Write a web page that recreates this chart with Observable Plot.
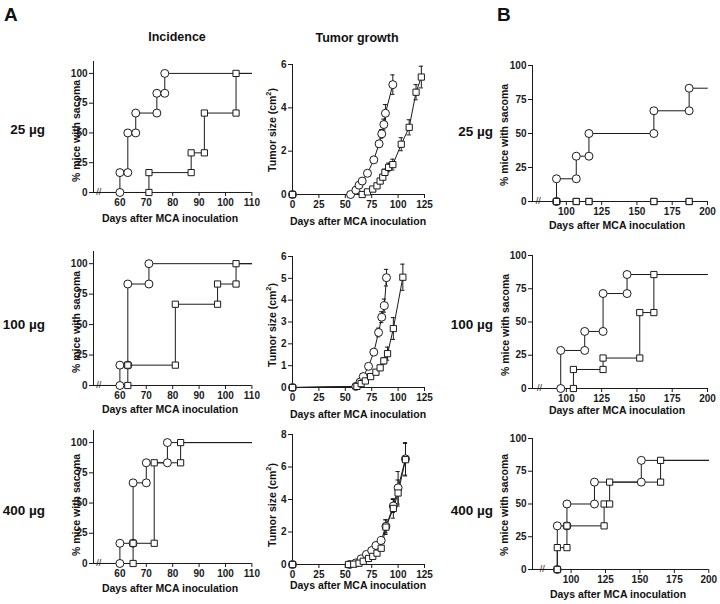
<!DOCTYPE html>
<html><head><meta charset="utf-8">
<script src="https://cdn.jsdelivr.net/npm/d3@7"></script>
<script src="https://cdn.jsdelivr.net/npm/@observablehq/plot@0.6"></script>
<style>
body{margin:0;background:#fff;}
#fig{position:relative;width:720px;height:604px;font-family:"Liberation Sans",Arial,Helvetica,sans-serif;color:#111;overflow:hidden;}
.t{position:absolute;white-space:nowrap;line-height:1;}
.t sup{font-size:70%;line-height:0;}
</style></head><body><div id="fig"></div>
<script>
// ---------- DATA ----------
// Panel A, Incidence (% mice with sarcoma): event days and % after event
const inc25CircDays = [60, 63, 66, 74, 77];
const inc25CircPct  = [16.7, 50, 66.7, 83.3, 100];
const inc25SqDays   = [71, 87, 92, 104];
const inc25SqPct    = [16.7, 33.3, 66.7, 100];

const inc100CircDays = [60, 63, 71];
const inc100CircPct  = [16.7, 83.3, 100];
const inc100SqDays   = [63, 81, 97, 104];
const inc100SqPct    = [16.7, 66.7, 83.3, 100];

const inc400CircDays = [60, 65, 70, 78];
const inc400CircPct  = [16.7, 66.7, 83.3, 100];
const inc400SqDays   = [65, 73, 83];
const inc400SqPct    = [16.7, 83.3, 100];

// Panel A, Tumor growth (cm2): day, mean size, error
const tg25CircDay  = [0, 55, 60, 63, 66, 71, 77, 82, 84.5, 86.5, 88, 95];
const tg25CircSize = [0, 0, 0.2, 0.43, 0.62, 0.98, 1.6, 2.34, 2.8, 3.23, 3.75, 5.07];
const tg25CircErr  = [0, 0, 0.03, 0.05, 0.07, 0.1, 0.12, 0.15, 0.2, 0.25, 0.4, 0.45];
const tg25SqDay    = [0, 66, 71, 76, 80, 83, 85.5, 87.5, 91, 95, 103, 110.5, 117, 122];
const tg25SqSize   = [0, 0, 0.12, 0.25, 0.4, 0.62, 0.8, 1.02, 1.25, 1.38, 2.32, 3.1, 4.72, 5.42];
const tg25SqErr    = [0, 0, 0.03, 0.05, 0.08, 0.1, 0.12, 0.15, 0.2, 0.25, 0.3, 0.35, 0.35, 0.5];

const tg100CircDay  = [0, 60, 64, 67, 72, 77, 81.5, 84.5, 87, 89];
const tg100CircSize = [0, 0.05, 0.25, 0.5, 0.97, 1.62, 2.52, 3.22, 3.75, 5.03];
const tg100CircErr  = [0, 0, 0.04, 0.06, 0.1, 0.12, 0.2, 0.25, 0.3, 0.38];
const tg100SqDay    = [0, 61, 65, 69, 74, 79, 83, 86.5, 90, 95.5, 104.5];
const tg100SqSize   = [0, 0.05, 0.18, 0.3, 0.5, 0.7, 0.9, 1.22, 1.55, 2.7, 5.05];
const tg100SqErr    = [0, 0, 0.03, 0.05, 0.07, 0.1, 0.12, 0.15, 0.3, 0.5, 0.6];

const tg400CircDay  = [0, 54, 60, 65, 70, 75, 79, 84, 88.5, 95.5, 100, 107];
const tg400CircSize = [0, 0, 0.1, 0.35, 0.62, 0.86, 1.17, 1.48, 2.35, 3.6, 4.72, 6.5];
const tg400CircErr  = [0, 0, 0.03, 0.05, 0.08, 0.1, 0.12, 0.15, 0.4, 0.4, 1.0, 1.0];
const tg400SqDay    = [0, 53, 58, 63, 67, 72, 76, 80, 84, 88.5, 95.5, 100, 107];
const tg400SqSize   = [0, 0, 0.02, 0.08, 0.2, 0.37, 0.5, 0.7, 1.0, 2.3, 3.45, 4.4, 6.45];
const tg400SqErr    = [0, 0, 0, 0.03, 0.05, 0.07, 0.08, 0.1, 0.12, 0.45, 0.6, 0.8, 1.0];

// Panel B, Incidence
const b25CircDays = [93, 107, 116, 162, 187];
const b25CircPct  = [16.7, 33.3, 50, 66.7, 83.3];
const b25SqDays   = [93, 107, 116, 162, 187];
const b25SqPct    = [0, 0, 0, 0, 0];

const b100CircDays = [96, 113, 126, 143];
const b100CircPct  = [28.6, 42.9, 71.4, 85.7];
const b100SqDays   = [105, 126, 152, 162];
const b100SqPct    = [14.3, 22.9, 57.1, 85.7];

const b400CircDays = [90, 97, 117, 151];
const b400CircPct  = [33.3, 50, 66.7, 83.3];
const b400SqDays   = [90, 97, 124, 128, 165];
const b400SqPct    = [16.7, 33.3, 50, 66.7, 83.3];

// Tick labels
const incXTicks = [60, 70, 80, 90, 100, 110];
const pctTicks  = [0, 25, 50, 75, 100];
const tgXTicks  = [0, 25, 50, 75, 100, 125];
const tg25YTicks  = [0, 2, 4, 6];
const tg100YTicks = [0, 1, 2, 3, 4, 5, 6];
const tg400YTicks = [0, 2, 4, 6, 8];
const bXTicks   = [100, 125, 150, 175, 200];
const doseLabels = ["25 µg", "100 µg", "400 µg"];

// ---------- DRAWING ----------
const FONT = '"Liberation Sans", Arial, Helvetica, sans-serif';
const INK = "#1a1a1a";
const fig = document.getElementById("fig");

function addText(html, x, y, {size = 10.5, anchor = "center", rotate = false, weight = "bold"} = {}) {
  const d = document.createElement("div");
  d.className = "t";
  d.innerHTML = html;
  d.style.left = x + "px";
  d.style.top = y + "px";
  d.style.fontSize = size + "px";
  d.style.fontWeight = weight;
  const tx = anchor === "center" ? "-50%" : anchor === "end" ? "-100%" : "0";
  d.style.transform = `translate(${tx},-50%)` + (rotate ? " rotate(-90deg)" : "");
  fig.appendChild(d);
}

function panel({x0, x1, xd, yb, yt, yd, xticks, yticks, marks}) {
  const mL = 36, mR = 10, mT = 8, mB = 20;
  const p = Plot.plot({
    width: x1 - x0 + mL + mR,
    height: yb - yt + mT + mB,
    marginLeft: mL, marginRight: mR, marginTop: mT, marginBottom: mB,
    x: {domain: xd},
    y: {domain: yd},
    style: {fontFamily: FONT, fontSize: "10px", fontWeight: "bold", color: INK, background: "transparent", overflow: "visible"},
    marks: [
      Plot.ruleY([yd[0]], {stroke: INK, strokeWidth: 1}),
      Plot.ruleX([xd[0]], {stroke: INK, strokeWidth: 1}),
      Plot.axisX({ticks: xticks, tickSize: 4, tickPadding: 2, label: null, tickFormat: d => String(d)}),
      Plot.axisY({ticks: yticks, tickSize: 4, tickPadding: 2, label: null, tickFormat: d => String(d)}),
      ...marks
    ]
  });
  p.style.position = "absolute";
  p.style.left = (x0 - mL) + "px";
  p.style.top = (yt - mT) + "px";
  fig.appendChild(p);
}

function stepData(days, pct, xmin, xmax) {
  const line = [{x: xmin, y: 0}, ...days.map((d, i) => ({x: d, y: pct[i]})), {x: xmax, y: pct[pct.length - 1]}];
  const pts = [];
  days.forEach((d, i) => {
    pts.push({x: d, y: i ? pct[i - 1] : 0});
    pts.push({x: d, y: pct[i]});
  });
  return {line, pts};
}

function incidenceMarks(cd, cp, sd, sp, xmin, xmax, brk) {
  const c = stepData(cd, cp, xmin, xmax);
  const s = stepData(sd, sp, xmin, xmax);
  return [
    Plot.text([{x: brk, y: 0}], {x: "x", y: "y", text: () => "//", fontSize: 9, fontWeight: "normal", fill: INK, stroke: "white", strokeWidth: 2}),
    Plot.line(c.line, {x: "x", y: "y", curve: "step-after", stroke: INK, strokeWidth: 1}),
    Plot.line(s.line, {x: "x", y: "y", curve: "step-after", stroke: INK, strokeWidth: 1}),
    Plot.dot(c.pts, {x: "x", y: "y", r: 4, fill: "white", stroke: INK, strokeWidth: 1}),
    Plot.dot(s.pts, {x: "x", y: "y", r: 3.5, symbol: "square", fill: "white", stroke: INK, strokeWidth: 1})
  ];
}

function growthMarks(cd, cs, ce, sd, ss, se) {
  const c = cd.map((d, i) => ({x: d, y: cs[i], e: ce[i]}));
  const s = sd.map((d, i) => ({x: d, y: ss[i], e: se[i]}));
  const bars = [...c, ...s].filter(d => d.e > 0.1);
  return [
    Plot.line(c, {x: "x", y: "y", stroke: INK, strokeWidth: 1}),
    Plot.line(s, {x: "x", y: "y", stroke: INK, strokeWidth: 1}),
    Plot.ruleX(bars, {x: "x", y1: d => d.y - d.e, y2: d => d.y + d.e, stroke: INK, strokeWidth: 1}),
    Plot.ruleY(bars, {y: d => d.y + d.e, x1: d => d.x - 2, x2: d => d.x + 2, stroke: INK, strokeWidth: 1}),
    Plot.ruleY(bars, {y: d => d.y - d.e, x1: d => d.x - 2, x2: d => d.x + 2, stroke: INK, strokeWidth: 1}),
    Plot.dot(c, {x: "x", y: "y", r: 4, fill: "white", stroke: INK, strokeWidth: 1}),
    Plot.dot(s, {x: "x", y: "y", r: 3.5, symbol: "square", fill: "white", stroke: INK, strokeWidth: 1})
  ];
}

// Panel A incidence
const incA = [
  {yb: 192, yt: 61, c: [inc25CircDays, inc25CircPct], s: [inc25SqDays, inc25SqPct]},
  {yb: 385, yt: 251, c: [inc100CircDays, inc100CircPct], s: [inc100SqDays, inc100SqPct]},
  {yb: 563, yt: 430, c: [inc400CircDays, inc400CircPct], s: [inc400SqDays, inc400SqPct]}
];
incA.forEach(r => panel({
  x0: 92.6, x1: 251, xd: [50, 110], yb: r.yb, yt: r.yt, yd: [0, 110],
  xticks: incXTicks, yticks: pctTicks,
  marks: incidenceMarks(r.c[0], r.c[1], r.s[0], r.s[1], 50, 110, 52)
}));

// Panel A tumor growth
const tgA = [
  {yb: 194, yt: 64, yd: [0, 6], yt2: tg25YTicks, m: growthMarks(tg25CircDay, tg25CircSize, tg25CircErr, tg25SqDay, tg25SqSize, tg25SqErr)},
  {yb: 387, yt: 256, yd: [0, 6], yt2: tg100YTicks, m: growthMarks(tg100CircDay, tg100CircSize, tg100CircErr, tg100SqDay, tg100SqSize, tg100SqErr)},
  {yb: 564, yt: 434, yd: [0, 8], yt2: tg400YTicks, m: growthMarks(tg400CircDay, tg400CircSize, tg400CircErr, tg400SqDay, tg400SqSize, tg400SqErr)}
];
tgA.forEach(r => panel({
  x0: 292, x1: 424, xd: [0, 125], yb: r.yb, yt: r.yt, yd: r.yd,
  xticks: tgXTicks, yticks: r.yt2, marks: r.m
}));

// Panel B incidence
const incB = [
  {yb: 201, yt: 65, x0: 532, x1: 707, xd: [76, 200], brk: 80, c: [b25CircDays, b25CircPct], s: [b25SqDays, b25SqPct]},
  {yb: 388, yt: 255, x0: 532, x1: 707, xd: [76, 200], brk: 81, c: [b100CircDays, b100CircPct], s: [b100SqDays, b100SqPct]},
  {yb: 569, yt: 438, x0: 531.7, x1: 708, xd: [72, 200], brk: 79, c: [b400CircDays, b400CircPct], s: [b400SqDays, b400SqPct]}
];
incB.forEach(r => panel({
  x0: r.x0, x1: r.x1, xd: r.xd, yb: r.yb, yt: r.yt, yd: [0, 100],
  xticks: bXTicks, yticks: pctTicks,
  marks: incidenceMarks(r.c[0], r.c[1], r.s[0], r.s[1], r.xd[0], 200, r.brk)
}));

// ---------- TEXT ----------
addText("A", 4, 14, {size: 19, anchor: "start"});
addText("B", 497, 14, {size: 19, anchor: "start"});
addText("Incidence", 177, 37, {size: 12.5});
addText("Tumor growth", 357, 38, {size: 12.5});

const rowY = [130, 325, 511];
doseLabels.forEach((t, i) => {
  addText(t, 45, rowY[i], {size: 13.5, anchor: "end"});
  addText(t, 493, rowY[i] + (i === 0 ? 2 : 0), {size: 13.5, anchor: "end"});
});

const xTitle = "Days after MCA inoculation";
[[170, 218], [170, 409], [170, 588]].forEach(([x, y]) => addText(xTitle, x, y));
[[358, 221], [358, 414], [358, 585]].forEach(([x, y]) => addText(xTitle, x, y));
[[617, 225], [617, 410], [618, 594]].forEach(([x, y]) => addText(xTitle, x, y));

[[76, 131], [76, 322], [76, 505]].forEach(([x, y]) => addText("% mice with sacoma", x, y, {rotate: true, size: 10.5}));
[[272, 130], [272, 325], [272, 505]].forEach(([x, y]) => addText("Tumor size (cm<sup>2</sup>)", x, y, {rotate: true, size: 10.5}));
[[504, 135], [505, 325], [504, 505]].forEach(([x, y]) => addText("% mice with sacoma", x, y, {rotate: true, size: 10.5}));
</script></body></html>
